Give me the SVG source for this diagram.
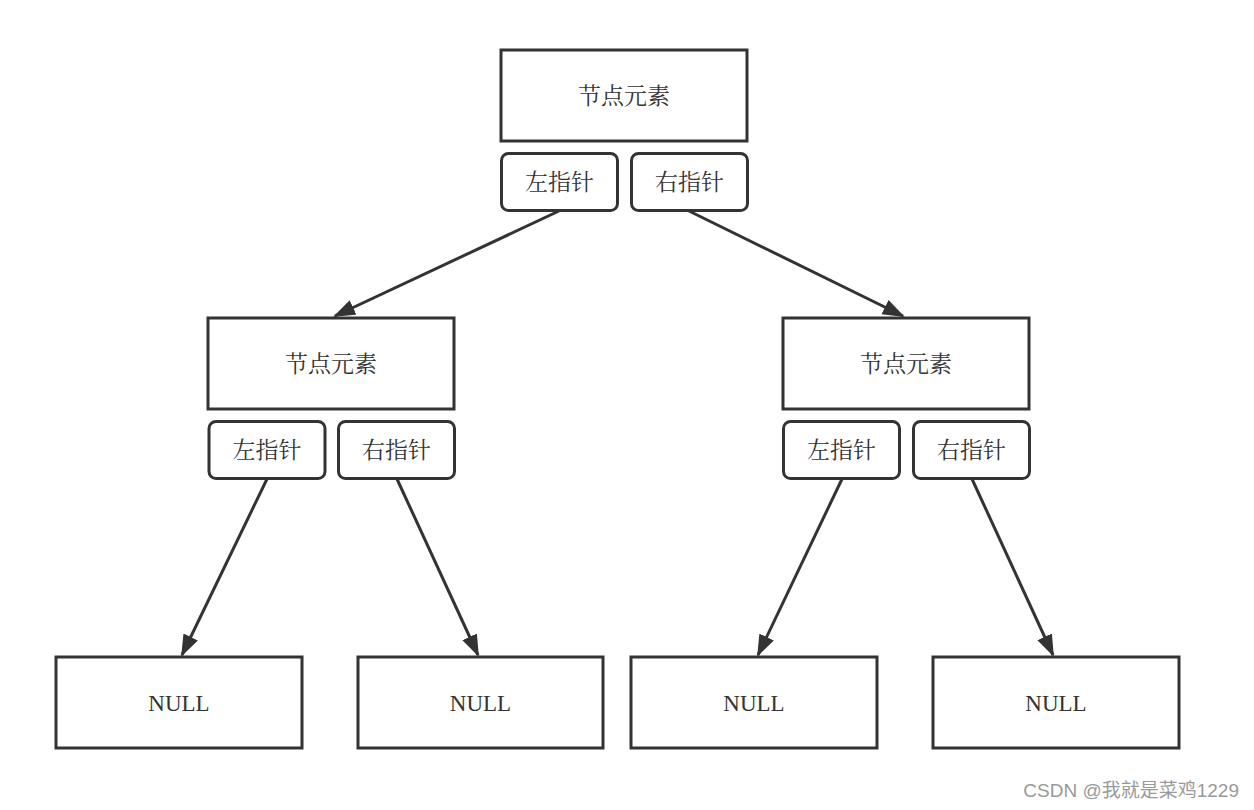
<svg xmlns="http://www.w3.org/2000/svg" width="1254" height="810" viewBox="0 0 1254 810">
<style>
.box{fill:#fff;stroke:#333;stroke-width:3}
.ptr{fill:#fff;stroke:#333;stroke-width:3}
.t{font-family:"Liberation Serif","Noto Serif CJK SC","Noto Sans CJK SC",serif;font-size:23px;fill:#333;text-anchor:middle;dominant-baseline:central}
.e{stroke:#333;stroke-width:3;fill:none;marker-end:url(#ah)}
.wm{font-family:"Liberation Sans","Noto Sans CJK SC",sans-serif;font-size:19px;fill:#999;text-anchor:end}
</style>
<defs>
<marker id="ah" markerUnits="userSpaceOnUse" markerWidth="24" markerHeight="18" refX="20" refY="8" orient="auto">
<path d="M0,0 L22,8 L0,16 Z" fill="#333"/>
</marker>
</defs>
<rect width="1254" height="810" fill="#fff"/>
<g id="connectors">
<line class="e" x1="559" y1="211" x2="335" y2="316"/>
<line class="e" x1="689" y1="211" x2="903" y2="316"/>
<line class="e" x1="267" y1="479" x2="182" y2="655"/>
<line class="e" x1="397" y1="479" x2="478" y2="655"/>
<line class="e" x1="842" y1="479" x2="758" y2="655"/>
<line class="e" x1="972" y1="479" x2="1053" y2="655"/>
</g>
<g id="n0"><rect class="box" x="501" y="50" width="246" height="91"/><text class="t" x="624" y="96">节点元素</text></g>
<g id="n0l"><rect class="ptr" x="501.5" y="153.5" width="116" height="57" rx="7"/><text class="t" x="559.5" y="182">左指针</text></g>
<g id="n0r"><rect class="ptr" x="631.5" y="153.5" width="116" height="57" rx="7"/><text class="t" x="689.5" y="182">右指针</text></g>
<g id="n1"><rect class="box" x="208" y="318" width="246" height="91"/><text class="t" x="331" y="364">节点元素</text></g>
<g id="n1l"><rect class="ptr" x="209" y="421.5" width="116" height="57" rx="7"/><text class="t" x="267" y="450">左指针</text></g>
<g id="n1r"><rect class="ptr" x="338.5" y="421.5" width="116" height="57" rx="7"/><text class="t" x="396.5" y="450">右指针</text></g>
<g id="n2"><rect class="box" x="783" y="318" width="246" height="91"/><text class="t" x="906" y="364">节点元素</text></g>
<g id="n2l"><rect class="ptr" x="783.5" y="421.5" width="116" height="57" rx="7"/><text class="t" x="841.5" y="450">左指针</text></g>
<g id="n2r"><rect class="ptr" x="913.5" y="421.5" width="116" height="57" rx="7"/><text class="t" x="971.5" y="450">右指针</text></g>
<g id="null1"><rect class="box" x="56" y="657" width="246" height="91"/><text class="t" x="179" y="703">NULL</text></g>
<g id="null2"><rect class="box" x="358" y="657" width="245" height="91"/><text class="t" x="480.5" y="703">NULL</text></g>
<g id="null3"><rect class="box" x="631" y="657" width="246" height="91"/><text class="t" x="754" y="703">NULL</text></g>
<g id="null4"><rect class="box" x="933" y="657" width="246" height="91"/><text class="t" x="1056" y="703">NULL</text></g>
<text class="wm" x="1239" y="797">CSDN @我就是菜鸡1229</text>
</svg>
